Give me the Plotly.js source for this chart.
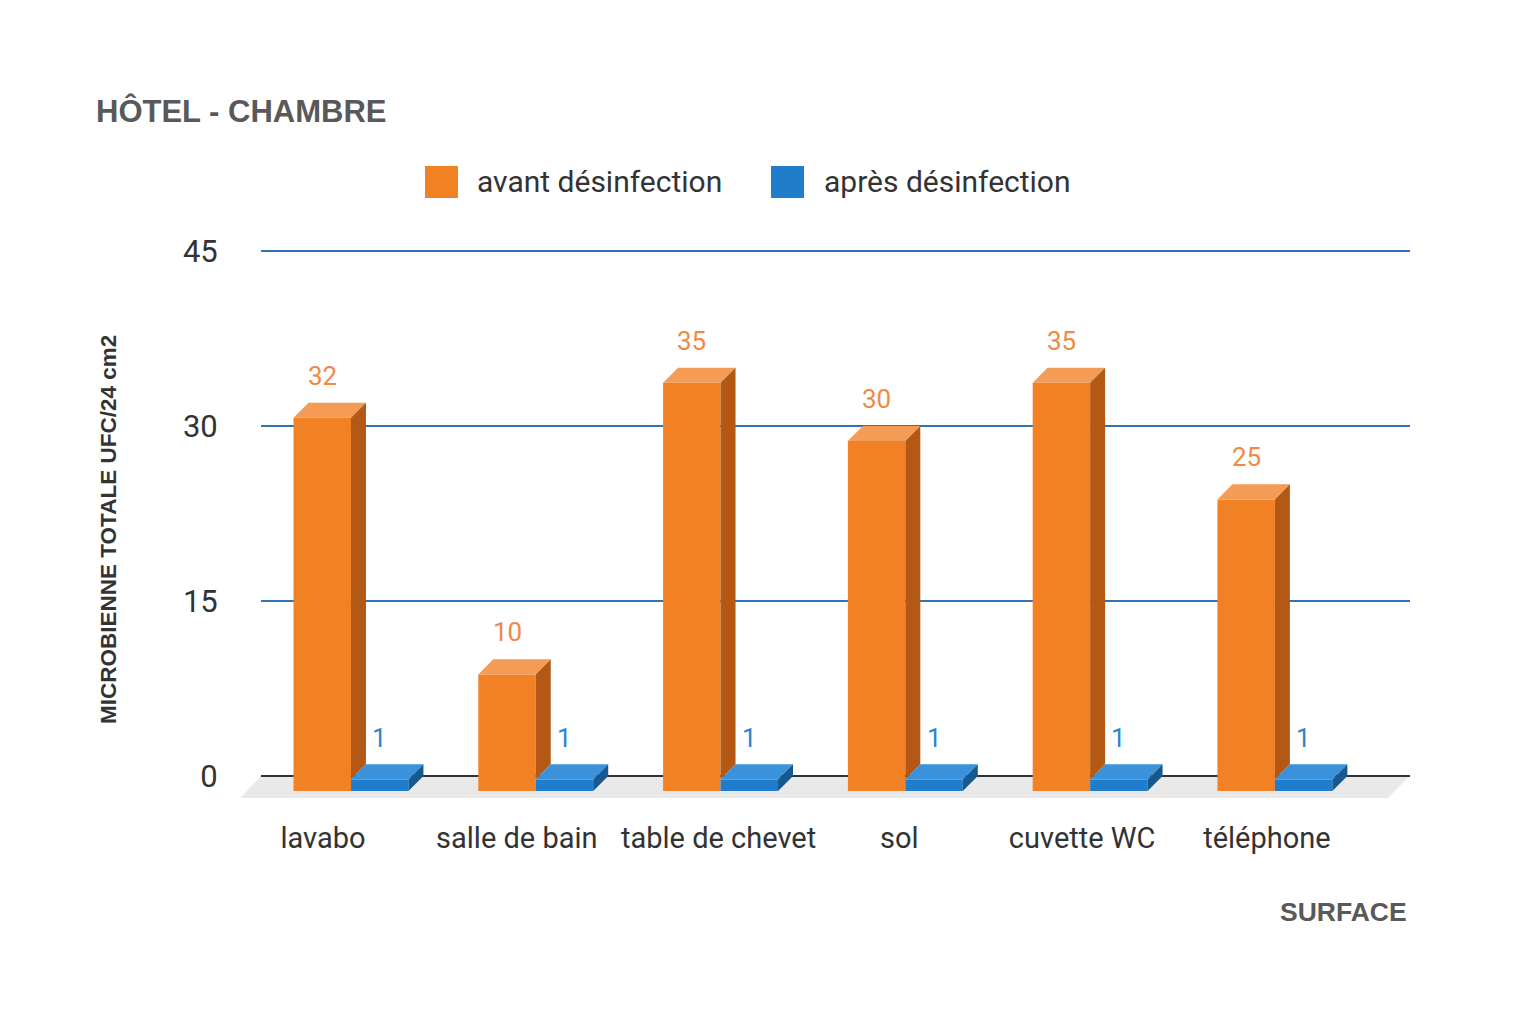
<!DOCTYPE html>
<html><head><meta charset="utf-8">
<script src="https://cdn.plot.ly/plotly-3.0.1.min.js"></script>
<style>html,body{margin:0;padding:0;background:#fff}#chart{width:1536px;height:1024px}</style>
</head><body><div id="chart"></div>
<script>
// ---- data ----
const categories = ['lavabo', 'salle de bain', 'table de chevet', 'sol', 'cuvette WC', 'téléphone'];
const avant = [32, 10, 35, 30, 35, 25];
const apres = [1, 1, 1, 1, 1, 1];
const yTicks = [0, 15, 30, 45];
const seriesNames = ['avant désinfection', 'après désinfection'];
const chartTitle = 'HÔTEL - CHAMBRE';
const yTitle = 'MICROBIENNE TOTALE UFC/24 cm2';
const xTitle = 'SURFACE';

// ---- geometry / style ----
const W = 1536, H = 1024, M = {l: 261, r: 126, t: 239, b: 225};
const PW = W - M.l - M.r, PH = H - M.t - M.b;
const yRange = [-1.971, 46.029];
const xRange = [-0.487, 5.731];
const barW = 0.311, dX = 0.081, dY = 1.29;
const labelShiftPx = [-28, -19, -2, -6, -8, -8]; // horizontal placement of category labels (layout)
const C = {
  oFront: '#f28024', oTop: '#f49b55', oSide: '#b35915', oText: '#ef8a45',
  bFront: '#1f7dcc', bTop: '#3a93da', bSide: '#16598f', bText: '#2b86cf',
  grid: '#2f74b5', zero: '#333333', floor: '#e9e9e9', text: '#333333', title: '#595959'
};
const px2x = p => (p - M.l) / PW;
const px2y = p => (M.t + PH - p) / PH;
const unitPx = PW / (xRange[1] - xRange[0]);
const idx = categories.map((_, i) => i);

function front(vals, off, color, name) {
  return {type: 'bar', x: idx, y: vals, base: vals.map(() => -dY), offset: off, width: barW,
    marker: {color: color, line: {width: 0}}, name: name, showlegend: false, hoverinfo: 'skip'};
}
function face(xs, ys, color) {
  return {type: 'scatter', mode: 'lines', x: xs, y: ys, fill: 'toself', fillcolor: color,
    line: {width: 0, color: color}, hoverinfo: 'skip', showlegend: false, connectgaps: false};
}
function topFace(vals, off, color) {
  const xs = [], ys = [];
  vals.forEach((v, i) => {
    const xl = i + off;
    xs.push(xl, xl + dX, xl + barW + dX, xl + barW, null);
    ys.push(v - dY, v, v, v - dY, null);
  });
  return face(xs, ys, color);
}
function sideFace(vals, off, lower, color) {
  const xs = [], ys = [];
  vals.forEach((v, i) => {
    const xr = i + off + barW;
    const lo = lower ? lower[i] : 0;
    xs.push(xr, xr + dX, xr + dX, xr, null);
    ys.push(v - dY, v, lo, lo - dY, null);
  });
  return face(xs, ys, color);
}

const data = [
  front(avant, -barW, C.oFront, seriesNames[0]),
  front(apres, 0, C.bFront, seriesNames[1]),
  topFace(avant, -barW, C.oTop),
  sideFace(avant, -barW, apres, C.oSide),
  topFace(apres, 0, C.bTop),
  sideFace(apres, 0, null, C.bSide)
];

const annotations = [];
avant.forEach((v, i) => annotations.push({x: i - barW / 2, y: v, xref: 'x', yref: 'y', text: String(v),
  showarrow: false, yshift: 27, yanchor: 'middle', font: {family: 'Roboto, Arial, sans-serif', size: 26, color: C.oText}}));
apres.forEach((v, i) => annotations.push({x: i + barW / 2, y: v, xref: 'x', yref: 'y', text: String(v),
  showarrow: false, yshift: 26, yanchor: 'middle', font: {family: 'Roboto, Arial, sans-serif', size: 26, color: C.bText}}));
annotations.push({xref: 'paper', yref: 'paper', x: px2x(108), y: px2y(530), text: yTitle, textangle: -90,
  showarrow: false, xanchor: 'center', yanchor: 'middle',
  font: {family: 'Liberation Sans, Arial, sans-serif', size: 22.5, weight: 'bold', color: C.text}});
annotations.push({xref: 'paper', yref: 'paper', x: px2x(1409), y: px2y(912), text: xTitle,
  showarrow: false, xanchor: 'right', yanchor: 'middle',
  font: {family: 'Liberation Sans, Arial, sans-serif', size: 26.5, weight: 'bold', color: C.title}});
// legend texts
annotations.push({xref: 'paper', yref: 'paper', x: px2x(475), y: px2y(182), text: seriesNames[0],
  showarrow: false, xanchor: 'left', yanchor: 'middle', font: {family: 'Roboto, Arial, sans-serif', size: 30, color: C.text}});
annotations.push({xref: 'paper', yref: 'paper', x: px2x(822), y: px2y(182), text: seriesNames[1],
  showarrow: false, xanchor: 'left', yanchor: 'middle', font: {family: 'Roboto, Arial, sans-serif', size: 30, color: C.text}});

const y0p = (0 - yRange[0]) / (yRange[1] - yRange[0]);
const shapes = [
  {type: 'path', xref: 'paper', yref: 'paper', layer: 'below', line: {width: 0}, fillcolor: C.floor,
    path: `M ${px2x(261)} ${y0p} L ${px2x(1410)} ${y0p} L ${px2x(1388)} ${px2y(798)} L ${px2x(240)} ${px2y(798)} Z`},
  {type: 'rect', xref: 'paper', yref: 'paper', x0: px2x(425), x1: px2x(458), y0: px2y(198), y1: px2y(166),
    fillcolor: C.oFront, line: {width: 0}},
  {type: 'rect', xref: 'paper', yref: 'paper', x0: px2x(771), x1: px2x(804), y0: px2y(198), y1: px2y(166),
    fillcolor: C.bFront, line: {width: 0}}
];

const layout = {
  width: W, height: H, margin: M, paper_bgcolor: '#ffffff', plot_bgcolor: 'rgba(0,0,0,0)',
  showlegend: false, barmode: 'overlay',
  title: {text: chartTitle, x: 96 / W, xref: 'container', xanchor: 'left', y: 1 - 111 / H, yref: 'container', yanchor: 'middle',
    font: {family: 'Liberation Sans, Arial, sans-serif', size: 31, weight: 'bold', color: C.title}},
  xaxis: {range: xRange, tickvals: idx.map(i => i + labelShiftPx[i] / unitPx), ticktext: categories, showgrid: false, zeroline: false,
    showline: false, ticks: 'outside', ticklen: 13, tickcolor: 'rgba(0,0,0,0)',
    tickfont: {family: 'Roboto, Arial, sans-serif', size: 29, color: C.text}, fixedrange: true},
  yaxis: {range: yRange, tickvals: yTicks, showgrid: true, gridcolor: C.grid, gridwidth: 2,
    zeroline: true, zerolinecolor: C.zero, zerolinewidth: 2.5, showline: false,
    ticks: 'outside', ticklen: 36, tickcolor: 'rgba(0,0,0,0)',
    tickfont: {family: 'Roboto, Arial, sans-serif', size: 31, color: C.text}, fixedrange: true},
  annotations: annotations, shapes: shapes
};
Plotly.newPlot('chart', data, layout, {displayModeBar: false, staticPlot: true});
</script></body></html>
